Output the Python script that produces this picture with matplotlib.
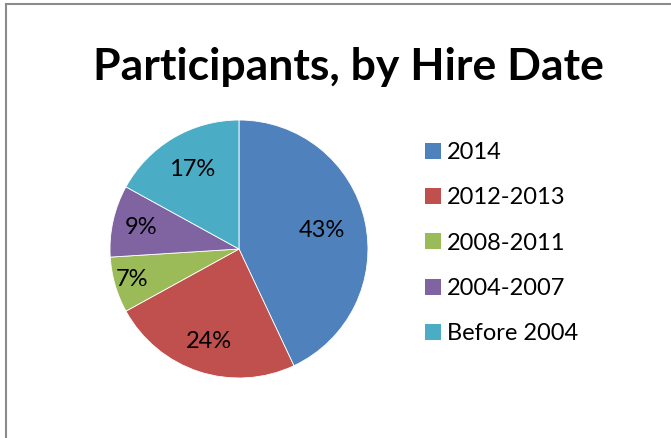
import matplotlib
matplotlib.use("Agg")
import matplotlib.pyplot as plt
import numpy as np
from matplotlib.lines import Line2D
from matplotlib.patches import Patch

plt.rcParams['font.family'] = ['Lato', 'DejaVu Sans']

categories = ['2014', '2012-2013', '2008-2011', '2004-2007', 'Before 2004']
shares = [43, 24, 7, 9, 17]
colors = ['#4F81BD', '#C0504D', '#9BBB59', '#8064A2', '#4BACC6']
# how far out each percent label sits (fraction of radius), like Excel's "best fit"
label_radius = [0.66, 0.75, 0.86, 0.78, 0.72]

fig = plt.figure(figsize=(6.71, 4.38), dpi=100)

# chart area border (only left and top edges visible in the crop)
fig.add_artist(Line2D([6 / 671, 6 / 671], [0, 1 - 4 / 438], color='#8c8c8c', lw=1.5))
fig.add_artist(Line2D([6 / 671, 1], [1 - 4 / 438, 1 - 4 / 438], color='#8c8c8c', lw=1.5))

ax = fig.add_axes([0.1639, 0.137, 0.3845, 0.589])
wedges, _ = ax.pie(shares, colors=colors, startangle=90, counterclock=False,
                   wedgeprops=dict(edgecolor='white', linewidth=0.6))
ax.set_xlim(-1, 1)
ax.set_ylim(-1, 1)
ax.set_aspect('equal')

for w, v, r in zip(wedges, shares, label_radius):
    mid = np.deg2rad((w.theta1 + w.theta2) / 2)
    ax.text(r * np.cos(mid), r * np.sin(mid), f'{v}%', ha='center', va='center',
            fontsize=17, color='black')

fig.text(0.52, 1 - 67 / 438, 'Participants, by Hire Date', ha='center', va='center',
         fontsize=32, fontweight='bold')

handles = [Patch(facecolor=c, edgecolor='none') for c in colors]
fig.legend(handles, categories, loc='upper left', bbox_to_anchor=(0.633, 1 - 142 / 438),
           frameon=False, fontsize=17, handlelength=0.68, handleheight=0.68,
           handletextpad=0.25, labelspacing=1.03, borderaxespad=0, borderpad=0)

fig.savefig('out.png', dpi=100)
